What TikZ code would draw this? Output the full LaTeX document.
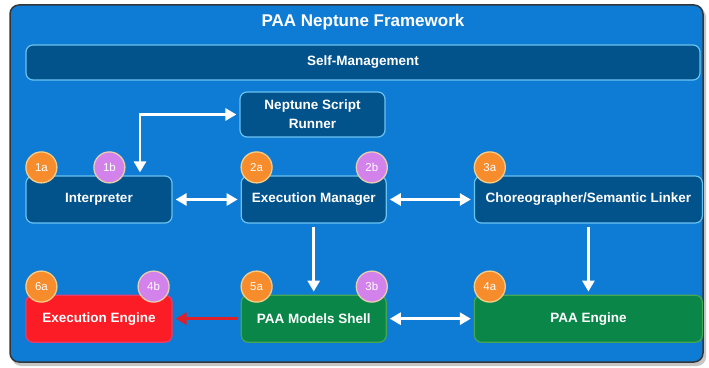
\documentclass[tikz,border=0pt]{standalone}
\usepackage{fontspec}
\setmainfont{Liberation Sans}
\usetikzlibrary{positioning,arrows.meta}

\definecolor{frameblue}{RGB}{14,124,212}
\definecolor{framegray}{RGB}{50,55,60}
\definecolor{boxblue}{RGB}{2,82,140}
\definecolor{edgeblue}{RGB}{105,195,240}
\definecolor{boxred}{RGB}{252,28,38}
\definecolor{edgered}{RGB}{232,60,110}
\definecolor{boxgreen}{RGB}{10,135,72}
\definecolor{edgegreen}{RGB}{70,165,80}
\definecolor{badgeorange}{RGB}{247,140,45}
\definecolor{rimorange}{RGB}{245,205,135}
\definecolor{badgepurple}{RGB}{212,130,235}
\definecolor{rimpurple}{RGB}{232,205,175}
\definecolor{arrowred}{RGB}{222,32,42}

\begin{document}
\begin{tikzpicture}[x=1pt,y=1pt,
    box/.style={rectangle,rounded corners=7pt,draw=edgeblue,line width=1.2pt,fill=boxblue,text=white,
        font=\bfseries\fontsize{13.5}{19}\selectfont,minimum height=47pt,align=center,inner sep=2pt},
    badge/.style={circle,draw,line width=1.3pt,text=white,font=\fontsize{11.5}{13}\selectfont,
        minimum size=31pt,inner sep=0pt},
    flow/.style={draw=white,line width=2.8pt,>={Triangle[length=11pt,width=12pt]},
        shorten <=3pt,shorten >=3pt}]
        \useasboundingbox (0,0) rectangle (709,367);
        \fill[white] (0,0) rectangle (709,367);
        \fill[gray!45,rounded corners=9pt] (12,1) rectangle (706,359);
        \draw[rounded corners=9pt,fill=frameblue,draw=framegray,line width=1.5pt] (10,5) rectangle (703,362);

        \node[text=white,font=\bfseries\fontsize{17}{20}\selectfont] (title) at (363,345) {PAA Neptune Framework};
        \node[box,minimum width=674pt,minimum height=35pt] (sm) at (363,304.5) {Self-Management};
        \node[box,minimum width=145pt,minimum height=45pt] (nsr) at (312.5,252.5) {Neptune Script\\Runner};

        \node[box,minimum width=146pt] (int) at (99,167.5) {Interpreter};
        \node[box,minimum width=145pt] (em) [right=68pt of int] {Execution Manager};
        \node[box,minimum width=228pt] (csl) [right=87pt of em] {Choreographer/Semantic Linker};
        \node[box,minimum width=146pt,fill=boxred,draw=edgered] (ee) [below=71pt of int] {Execution Engine};
        \node[box,minimum width=145pt,fill=boxgreen,draw=edgegreen] (ms) [below=71pt of em] {PAA Models Shell};
        \node[box,minimum width=228pt,fill=boxgreen,draw=edgegreen] (pe) [below=71pt of csl] {PAA Engine};

        \draw[flow,<->] (nsr.west) -| ([xshift=41pt]int.north);
        \draw[flow,<->] (int) -- (em);
        \draw[flow,<->] (em) -- (csl);
        \draw[flow,<->] (ms) -- (pe);
        \draw[flow,->] (em) -- (ms);
        \draw[flow,->] (csl) -- (pe);
        \draw[flow,->,draw=arrowred] (ms) -- (ee);

        \foreach \b/\pos in {1a/int,2a/em,3a/csl,6a/ee,5a/ms,4a/pe}{
            \node[badge,fill=badgeorange,draw=rimorange] (b\b) at ([shift={(16,8)}]\pos.north west) {\b};
        }
        \node[badge,fill=badgepurple,draw=rimpurple] (b1b) at ([shift={(84,8)}]int.north west) {1b};
        \foreach \b/\pos/\dx in {2b/em/-15,3b/ms/-15,4b/ee/-19}{
            \node[badge,fill=badgepurple,draw=rimpurple] (b\b) at ([shift={(\dx,8)}]\pos.north east) {\b};
        }
    \end{tikzpicture}
\end{document}
